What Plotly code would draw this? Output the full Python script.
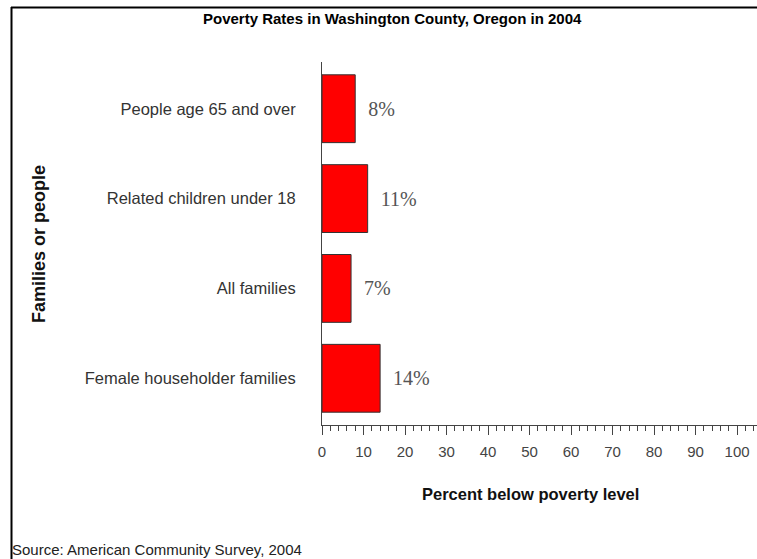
import plotly.graph_objects as go

categories = ["Female householder families", "All families", "Related children under 18", "People age 65 and over"]
values = [14, 7, 11, 8]
labels = ["14%", "7%", "11%", "8%"]
x_ticks = [0, 10, 20, 30, 40, 50, 60, 70, 80, 90, 100]

W, H = 757, 559
L, R, T, B = 322, 757, 62, 425

def px(x):
    return (x - L) / (R - L)

def py(y):
    return (B - y) / (B - T)

fig = go.Figure(go.Bar(
    y=categories, x=values, orientation="h",
    marker=dict(color="#ff0000", line=dict(color="#333333", width=1)),
    text=labels, texttemplate="\u00a0\u00a0%{text}", textposition="outside", cliponaxis=False,
    textfont=dict(family="Liberation Serif, Times New Roman, serif", size=20, color="#555555"),
    width=0.755,
))

fig.update_layout(
    width=W, height=H,
    margin=dict(l=L, r=W - R, t=T, b=H - B),
    paper_bgcolor="white", plot_bgcolor="white",
    showlegend=False,
    font=dict(family="Liberation Sans, Arial, sans-serif", size=12, color="#333333"),
    xaxis=dict(
        range=[0, 104.8], tickvals=x_ticks, ticks="outside", ticklen=9, tickwidth=1,
        tickcolor="#444444", showline=True, linecolor="#444444", linewidth=1,
        showgrid=False, zeroline=False, ticklabelstandoff=4,
        minor=dict(dtick=2, ticks="outside", ticklen=5, tickcolor="#444444", tickwidth=1, showgrid=False),
        tickfont=dict(size=15, color="#444444"),
    ),
    yaxis=dict(
        range=[-0.52, 3.52], showline=True, linecolor="#444444", linewidth=1,
        showgrid=False, zeroline=False, ticks="", ticklabelstandoff=22,
        tickfont=dict(size=16.5, color="#333333"),
    ),
    annotations=[
        dict(text="<b>Poverty Rates in Washington County, Oregon in 2004</b>", xref="paper", yref="paper",
             x=px(392), y=py(18), showarrow=False, xanchor="center", yanchor="middle",
             font=dict(size=15, color="#000000", family="Liberation Sans, Arial, sans-serif")),
        dict(text="<b>Percent below poverty level</b>", xref="paper", yref="paper",
             x=px(530), y=py(494), showarrow=False, xanchor="center", yanchor="middle",
             font=dict(size=16.5, color="#111111")),
        dict(text="<b>Families or people</b>", xref="paper", yref="paper",
             x=px(39), y=py(244), showarrow=False, xanchor="center", yanchor="middle",
             textangle=-90, font=dict(size=18, color="#111111")),
        dict(text="Source: American Community Survey, 2004", xref="paper", yref="paper",
             x=px(10), y=py(549), showarrow=False, xanchor="left", yanchor="middle",
             font=dict(size=15, color="#222222")),
    ],
    shapes=[
        dict(type="line", xref="paper", yref="paper", x0=px(11), x1=px(757), y0=py(7.5), y1=py(7.5),
             line=dict(color="#000000", width=2)),
        dict(type="line", xref="paper", yref="paper", x0=px(11.5), x1=px(11.5), y0=py(7), y1=py(559),
             line=dict(color="#000000", width=2)),
    ],
)

fig.write_html("out.html", config={"displayModeBar": False},
               post_script="document.body.style.margin='0';document.body.style.overflow='hidden';")
